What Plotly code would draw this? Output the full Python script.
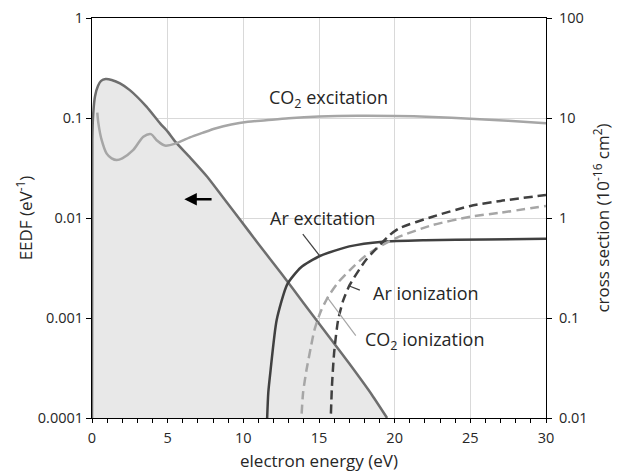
import plotly.graph_objects as go

# EEDF (left axis, eV^-1)
eedf_e = [0, 0.02, 0.08, 0.2, 0.4, 0.6, 0.9, 1.3, 1.85, 2.5, 3.6, 4.5, 5.0, 5.5, 6.5, 7.6, 8.6, 9.7,
          11, 12.5, 14, 15.5, 17, 18.5, 19.5]
eedf_v = [1e-4, 0.06, 0.11, 0.165, 0.21, 0.235, 0.245, 0.24, 0.222, 0.19, 0.13, 0.0885, 0.073, 0.058,
          0.04, 0.026, 0.0165, 0.01, 0.0055, 0.0028, 0.0014, 0.0007, 0.00035, 0.00017, 1e-4]

# Cross sections (right axis, 1e-16 cm^2)
co2_exc_e = [0.35, 0.42, 0.64, 0.97, 1.3, 1.63, 2.0, 2.73, 3.39, 3.9, 4.27, 4.82, 5.59, 6.47, 7.3, 8.2,
             9.2, 10.3, 11.5, 13, 15, 17.5, 20, 22.5, 25, 27.5, 30]
co2_exc_v = [11.3, 8.9, 6.0, 4.4, 3.95, 3.8, 3.95, 4.8, 6.5, 6.9, 6.0, 5.3, 5.6, 6.4, 7.1, 7.9,
             8.6, 9.15, 9.5, 9.95, 10.35, 10.55, 10.5, 10.25, 9.85, 9.4, 8.85]

ar_exc_e = [11.55, 11.65, 11.8, 12.2, 12.9, 13.8, 15.05, 17.0, 19.2, 22, 26, 30]
ar_exc_v = [0.008, 0.018, 0.03, 0.095, 0.217, 0.32, 0.417, 0.52, 0.58, 0.6, 0.61, 0.62]

ar_ion_e = [15.76, 15.85, 16.0, 16.26, 16.6, 17.03, 18.1, 19.7, 20.3, 22.5, 25, 27, 30]
ar_ion_v = [0.008, 0.02, 0.045, 0.095, 0.15, 0.214, 0.38, 0.68, 0.79, 1.03, 1.32, 1.48, 1.7]

co2_ion_e = [13.8, 13.95, 14.17, 14.45, 14.7, 15.1, 15.6, 16.3, 17.03, 18, 19.23, 20.3, 22.5, 25, 27, 30]
co2_ion_v = [0.008, 0.018, 0.03, 0.05, 0.076, 0.115, 0.163, 0.23, 0.30, 0.41, 0.54, 0.65, 0.85, 1.03, 1.13, 1.32]

x_ticks = [0, 5, 10, 15, 20, 25, 30]
left_ticks = [1e-4, 1e-3, 1e-2, 1e-1, 1]
left_text = ["0.0001", "0.001", "0.01", "0.1", "1"]
right_ticks = [0.01, 0.1, 1, 10, 100]
right_text = ["0.01", "0.1", "1", "10", "100"]

FONT = "Open Sans"
TXT = "#262626"
DARK = "#404040"
LIGHT = "#a6a6a6"
EEDF_C = "#6e6e6e"

fig = go.Figure()

# baseline for fill
fig.add_trace(go.Scatter(x=[eedf_e[0], eedf_e[-1]], y=[left_ticks[0], left_ticks[0]], mode="lines",
                         line=dict(width=0, color="rgba(0,0,0,0)"), showlegend=False, hoverinfo="skip"))
fig.add_trace(go.Scatter(x=eedf_e, y=eedf_v, mode="lines", fill="tonexty", fillcolor="#e8e8e8",
                         line=dict(color=EEDF_C, width=2.5, shape="spline", smoothing=0.6),
                         showlegend=False))

fig.add_trace(go.Scatter(x=co2_exc_e, y=co2_exc_v, yaxis="y2", mode="lines",
                         line=dict(color=LIGHT, width=2.5, shape="spline", smoothing=0.8), showlegend=False))
fig.add_trace(go.Scatter(x=ar_exc_e, y=ar_exc_v, yaxis="y2", mode="lines",
                         line=dict(color=DARK, width=2.5, shape="spline", smoothing=0.6), showlegend=False))
fig.add_trace(go.Scatter(x=co2_ion_e, y=co2_ion_v, yaxis="y2", mode="lines",
                         line=dict(color=LIGHT, width=2.5, dash="9px,5px", shape="spline", smoothing=0.6),
                         showlegend=False))
fig.add_trace(go.Scatter(x=ar_ion_e, y=ar_ion_v, yaxis="y2", mode="lines",
                         line=dict(color=DARK, width=2.5, dash="9px,5px", shape="spline", smoothing=0.6),
                         showlegend=False))

# leader lines
fig.add_trace(go.Scatter(x=[13.93, 15.05], y=[0.69, 0.417], yaxis="y2", mode="lines",
                         line=dict(color=DARK, width=1.2), showlegend=False, hoverinfo="skip"))
fig.add_trace(go.Scatter(x=[16.96, 17.7], y=[0.21, 0.19], yaxis="y2", mode="lines",
                         line=dict(color=DARK, width=1.2), showlegend=False, hoverinfo="skip"))
fig.add_trace(go.Scatter(x=[15.56, 17.43], y=[0.16, 0.0665], yaxis="y2", mode="lines",
                         line=dict(color=LIGHT, width=1.2), showlegend=False, hoverinfo="skip"))

ann_font = dict(family=FONT, size=18, color=TXT)
annotations = [
    dict(x=15.64, y=-0.8, xref="x", yref="y", text="CO<sub>2</sub> excitation", showarrow=False, font=ann_font),
    dict(x=15.2, y=-2.0, xref="x", yref="y", text="Ar excitation", showarrow=False, font=ann_font),
    dict(x=22.1, y=-2.747, xref="x", yref="y", text="Ar ionization", showarrow=False, font=ann_font),
    dict(x=21.98, y=-3.22, xref="x", yref="y", text="CO<sub>2</sub> ionization", showarrow=False, font=ann_font),
    dict(x=6.1, y=-1.813, xref="x", yref="y", ax=8.0, ay=-1.813, axref="x", ayref="y", text="",
         showarrow=True, arrowhead=2, arrowsize=1, arrowwidth=2.5, arrowcolor="black"),
]

TICKF = dict(size=14.5, family=FONT, color=TXT)
TITLEF = dict(size=17, family=FONT, color=TXT)

fig.update_layout(
    width=619, height=472,
    margin=dict(l=92, r=72.5, t=18, b=54, autoexpand=False),
    paper_bgcolor="white", plot_bgcolor="white",
    font=dict(family=FONT, size=12, color=TXT),
    showlegend=False,
    annotations=annotations,
    xaxis=dict(range=[0, 30], tickvals=x_ticks, showgrid=True, gridcolor="#d9d9d9", gridwidth=1,
               zeroline=False, showline=True, linecolor="black", linewidth=1, mirror=True,
               ticks="outside", ticklen=4, tickcolor="black", ticklabelstandoff=3, automargin=False,
               minor=dict(dtick=1, tick0=0, ticks="outside", ticklen=4, tickcolor="black", showgrid=False),
               title=dict(text="electron energy (eV)", font=TITLEF, standoff=12),
               tickfont=TICKF),
    yaxis=dict(type="log", range=[-4, 0], tickvals=left_ticks, ticktext=left_text, automargin=False,
               showgrid=True, gridcolor="#d9d9d9", gridwidth=1, zeroline=False,
               showline=True, linecolor="black", linewidth=1, ticks="outside", ticklen=5, tickcolor="black",
               title=dict(text="EEDF (eV<sup>-1</sup>)", font=TITLEF, standoff=0),
               tickfont=TICKF),
    yaxis2=dict(type="log", range=[-2, 2], overlaying="y", side="right", tickvals=right_ticks, ticktext=right_text,
                showgrid=False, zeroline=False, showline=True, linecolor="black", linewidth=1, automargin=False,
                ticks="outside", ticklen=5, tickcolor="black", ticklabelstandoff=4,
                title=dict(text="cross section (10<sup>-16</sup> cm<sup>2</sup>)", font=TITLEF, standoff=10),
                tickfont=TICKF),
)

fig.write_html("out.html")
